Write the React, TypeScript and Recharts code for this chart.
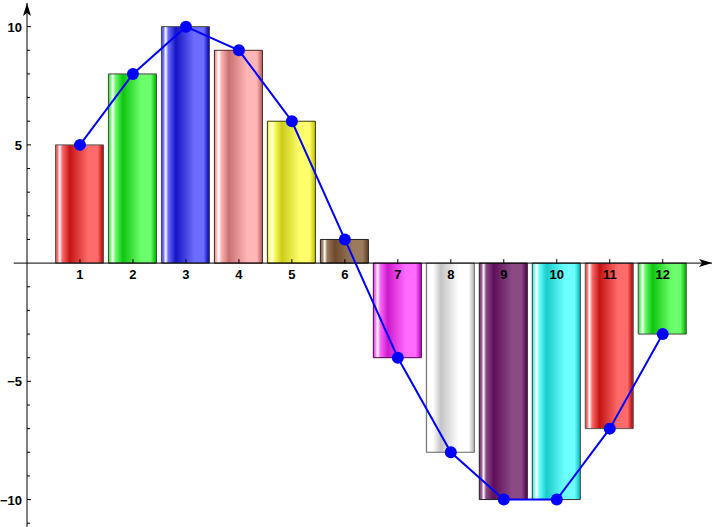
import React from "react";
import {
  ComposedChart,
  Bar,
  Line,
  XAxis,
  YAxis,
  Cell,
  ReferenceLine,
  ReferenceDot,
} from "recharts";

const categories = ["1", "2", "3", "4", "5", "6", "7", "8", "9", "10", "11", "12"];
const values = [5, 8, 10, 9, 6, 1, -4, -8, -10, -10, -7, -3];
const darkColors = ["#c41414", "#0fc40f", "#1414c4", "#c87070", "#cccc1a", "#6e4a2e", "#cc1acc", "#c4c4c4", "#5e0e5a", "#1acccc", "#c41414", "#0fc40f"];
const lightColors = ["#ff6b6b", "#6bff6b", "#6b6bff", "#ffb6b6", "#ffff6b", "#9c7a5c", "#ff6bff", "#ffffff", "#8a4a84", "#6bffff", "#ff6b6b", "#6bff6b"];
const strokeColors = ["#555555", "#444444", "#444444", "#4a2020", "#3a3a00", "#222222", "#4a004a", "#666666", "#222222", "#333333", "#555555", "#444444"];
const yTicks = [-11, -10, -9, -8, -7, -6, -5, -4, -3, -2, -1, 0, 1, 2, 3, 4, 5, 6, 7, 8, 9, 10];
const yLabeled = [-10, -5, 5, 10];

const data = categories.map((c, i) => ({ x: i + 1, label: c, value: values[i] }));

const FONT = "'Liberation Sans', Arial, sans-serif";

const YTick = (props: any) => {
  const { x, y, payload } = props;
  const v = payload.value;
  const ax = x + 5;
  const major = yLabeled.includes(v);
  if (v === 0) return null;
  return (
    <g>
      <line x1={ax} x2={ax + (major ? 4 : 3)} y1={y} y2={y} stroke="#000" strokeWidth={1} />
      {major && (
        <text x={x} y={y} dy={5} textAnchor="end" fontFamily={FONT} fontSize={13} fontWeight="bold" fill="#000">
          {v < 0 ? "\u2212" + Math.abs(v) : String(v)}
        </text>
      )}
    </g>
  );
};

const CatLabel = (label: string) => (props: any) => {
  const { cx, cy } = props;
  return (
    <g>
      <line x1={cx} x2={cx} y1={cy} y2={cy - 4} stroke="#000" strokeWidth={1} />
      <text x={cx} y={cy + 16} textAnchor="middle" fontFamily={FONT} fontSize={13} fontWeight="bold" fill="#000">
        {label}
      </text>
    </g>
  );
};

const ArrowRight = (props: any) => {
  const { cx, cy } = props;
  return <path d={`M${cx},${cy} L${cx - 13},${cy - 4} L${cx - 10},${cy} L${cx - 13},${cy + 4} Z`} fill="#000" />;
};

const ArrowUp = (props: any) => {
  const { cx, cy } = props;
  return <path d={`M${cx},${cy} L${cx - 4},${cy + 13} L${cx},${cy + 10} L${cx + 4},${cy + 13} Z`} fill="#000" />;
};

export default function App() {
  return (
    <div style={{ position: "absolute", left: 0, top: 0, background: "#fff" }}>
      <ComposedChart width={716} height={527} data={data} margin={{ top: 3, right: 4, bottom: 0, left: 0 }}>
        <defs>
          {categories.map((c, i) => (
            <linearGradient key={c} id={`grad${i}`} x1="0" y1="0" x2="1" y2="0">
              <stop offset="0%" stopColor={darkColors[i]} stopOpacity={0.7} />
              <stop offset="4%" stopColor={lightColors[i]} />
              <stop offset="9%" stopColor="#ffffff" stopOpacity={0.95} />
              <stop offset="14%" stopColor={lightColors[i]} />
              <stop offset="30%" stopColor={darkColors[i]} />
              <stop offset="68%" stopColor={lightColors[i]} />
              <stop offset="88%" stopColor={lightColors[i]} />
              <stop offset="97%" stopColor={darkColors[i]} />
              <stop offset="100%" stopColor={darkColors[i]} />
            </linearGradient>
          ))}
        </defs>
        <XAxis type="number" dataKey="x" domain={[0, 12.93]} allowDataOverflow hide />
        <YAxis
          type="number"
          domain={[-11.16, 11]}
          allowDataOverflow
          ticks={yTicks}
          interval={0}
          width={27}
          tickSize={0}
          tickMargin={5}
          tickLine={false}
          axisLine={{ stroke: "#000", strokeWidth: 1 }}
          tick={<YTick />}
        />
        <Bar dataKey="value" barSize={48} isAnimationActive={false}>
          {data.map((d, i) => (
            <Cell key={d.label} fill={`url(#grad${i})`} stroke={strokeColors[i]} strokeWidth={1} />
          ))}
        </Bar>
        <ReferenceLine
          segment={[{ x: -0.25, y: 0 }, { x: 12.93, y: 0 }]}
          stroke="#000"
          strokeWidth={1}
          ifOverflow="visible"
        />
        {data.map((d) => (
          <ReferenceDot key={d.label} x={d.x} y={0} r={0} ifOverflow="visible" shape={CatLabel(d.label)} />
        ))}
        <ReferenceDot x={12.93} y={0} r={0} ifOverflow="visible" shape={ArrowRight} />
        <ReferenceDot x={0} y={11} r={0} ifOverflow="visible" shape={ArrowUp} />
        <Line
          type="linear"
          dataKey="value"
          stroke="#0000ff"
          strokeWidth={2}
          dot={{ r: 6, fill: "#0000ff", stroke: "none" }}
          activeDot={false}
          isAnimationActive={false}
        />
      </ComposedChart>
    </div>
  );
}
